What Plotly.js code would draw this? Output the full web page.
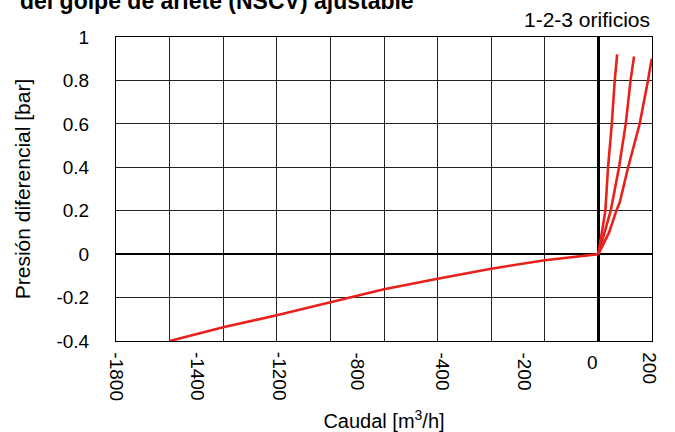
<!DOCTYPE html>
<html>
<head>
<meta charset="utf-8">
<script src="https://cdn.plot.ly/plotly-3.0.1.min.js"></script>
<style>
  html, body { margin: 0; padding: 0; background: #fff; }
  #chart { width: 675px; height: 432px; }
</style>
</head>
<body>
<div id="chart"></div>
<script>
// ---- data ----
const negQ = [-1600, -1400, -1200, -1000, -800, -600, -400, -200, 0];
const negP = [-0.4, -0.337, -0.281, -0.223, -0.162, -0.113, -0.067, -0.028, 0];

const q1 = [0, 14, 26, 36, 50, 61, 70];
const p1 = [0, 0.1, 0.2, 0.4, 0.6, 0.8, 0.92];

const q2 = [0, 24, 46, 77, 102, 120, 133];
const p2 = [0, 0.1, 0.2, 0.4, 0.6, 0.8, 0.91];

const q3 = [0, 40, 67, 80, 111, 154, 185, 199];
const p3 = [0, 0.1, 0.2, 0.24, 0.4, 0.6, 0.8, 0.9];

const yTickVals = [-0.4, -0.2, 0, 0.2, 0.4, 0.6, 0.8, 1];
const yTickText = ['-0.4', '-0.2', '0', '0.2', '0.4', '0.6', '0.8', '1'];

const xTickText = ['-1800', '-1400', '-1200', '-800', '-400', '-200', '0', '200'];
const xTickAt   = [-1799, -1495, -1189, -898, -581, -275, -21, 192];

const titleText = 'del golpe de ariete (NSCV) ajustable';
const noteText = '1-2-3 orificios';
const xTitle = 'Caudal [m<sup>3</sup>/h]';
const yTitle = 'Presión diferencial [bar]';

// ---- chart ----
const red = '#e8211c';
const lineStyle = { color: red, width: 2.6 };
const font = 'Liberation Sans, Arial, Helvetica, sans-serif';

const traces = [
  { x: negQ, y: negP, mode: 'lines', line: lineStyle },
  { x: q1, y: p1, mode: 'lines', line: lineStyle },
  { x: q2, y: p2, mode: 'lines', line: lineStyle },
  { x: q3, y: p3, mode: 'lines', line: lineStyle }
];

const annotations = xTickText.map((t, i) => ({
  x: xTickAt[i], xref: 'x',
  y: t === '0' ? -0.03 : -0.03, yref: 'paper',
  text: t,
  showarrow: false,
  textangle: t === '0' ? 0 : 90,
  xanchor: 'center', yanchor: 'top',
  font: { family: font, size: 19, color: '#000' }
}));
annotations.push({
  x: 1, xref: 'paper', y: 1.056, yref: 'paper',
  text: noteText, showarrow: false,
  xanchor: 'right', yanchor: 'middle',
  font: { family: font, size: 21, color: '#000' }
});

const layout = {
  width: 675, height: 432,
  margin: { l: 116, r: 23, t: 37, b: 91 },
  paper_bgcolor: '#fff', plot_bgcolor: '#fff',
  showlegend: false,
  font: { family: font, color: '#000' },
  title: {
    text: '<b>' + titleText + '</b>',
    x: 20 / 675, xanchor: 'left', xref: 'container',
    y: 1 - 9 / 432, yanchor: 'bottom', yref: 'container',
    font: { family: font, size: 23, color: '#000' }
  },
  xaxis: {
    range: [-1800, 200], dtick: 200, tick0: 0,
    showgrid: true, gridcolor: '#222', gridwidth: 1,
    zeroline: true, zerolinecolor: '#000', zerolinewidth: 2.5,
    showline: true, linecolor: '#000', linewidth: 1, mirror: true,
    showticklabels: false, ticks: '',
    title: { text: xTitle, standoff: 73, font: { family: font, size: 20, color: '#000' } },
    fixedrange: true
  },
  yaxis: {
    range: [-0.4, 1],
    tickvals: yTickVals, ticktext: yTickText,
    showgrid: true, gridcolor: '#222', gridwidth: 1,
    zeroline: true, zerolinecolor: '#000', zerolinewidth: 2.5,
    showline: true, linecolor: '#000', linewidth: 1, mirror: true,
    ticks: '', ticklabelstandoff: 22,
    tickfont: { family: font, size: 19, color: '#000' },
    title: { text: yTitle, standoff: 20, font: { family: font, size: 21, color: '#000' } },
    fixedrange: true
  },
  annotations: annotations
};

Plotly.newPlot('chart', traces, layout, { displayModeBar: false, staticPlot: true });
</script>
</body>
</html>
